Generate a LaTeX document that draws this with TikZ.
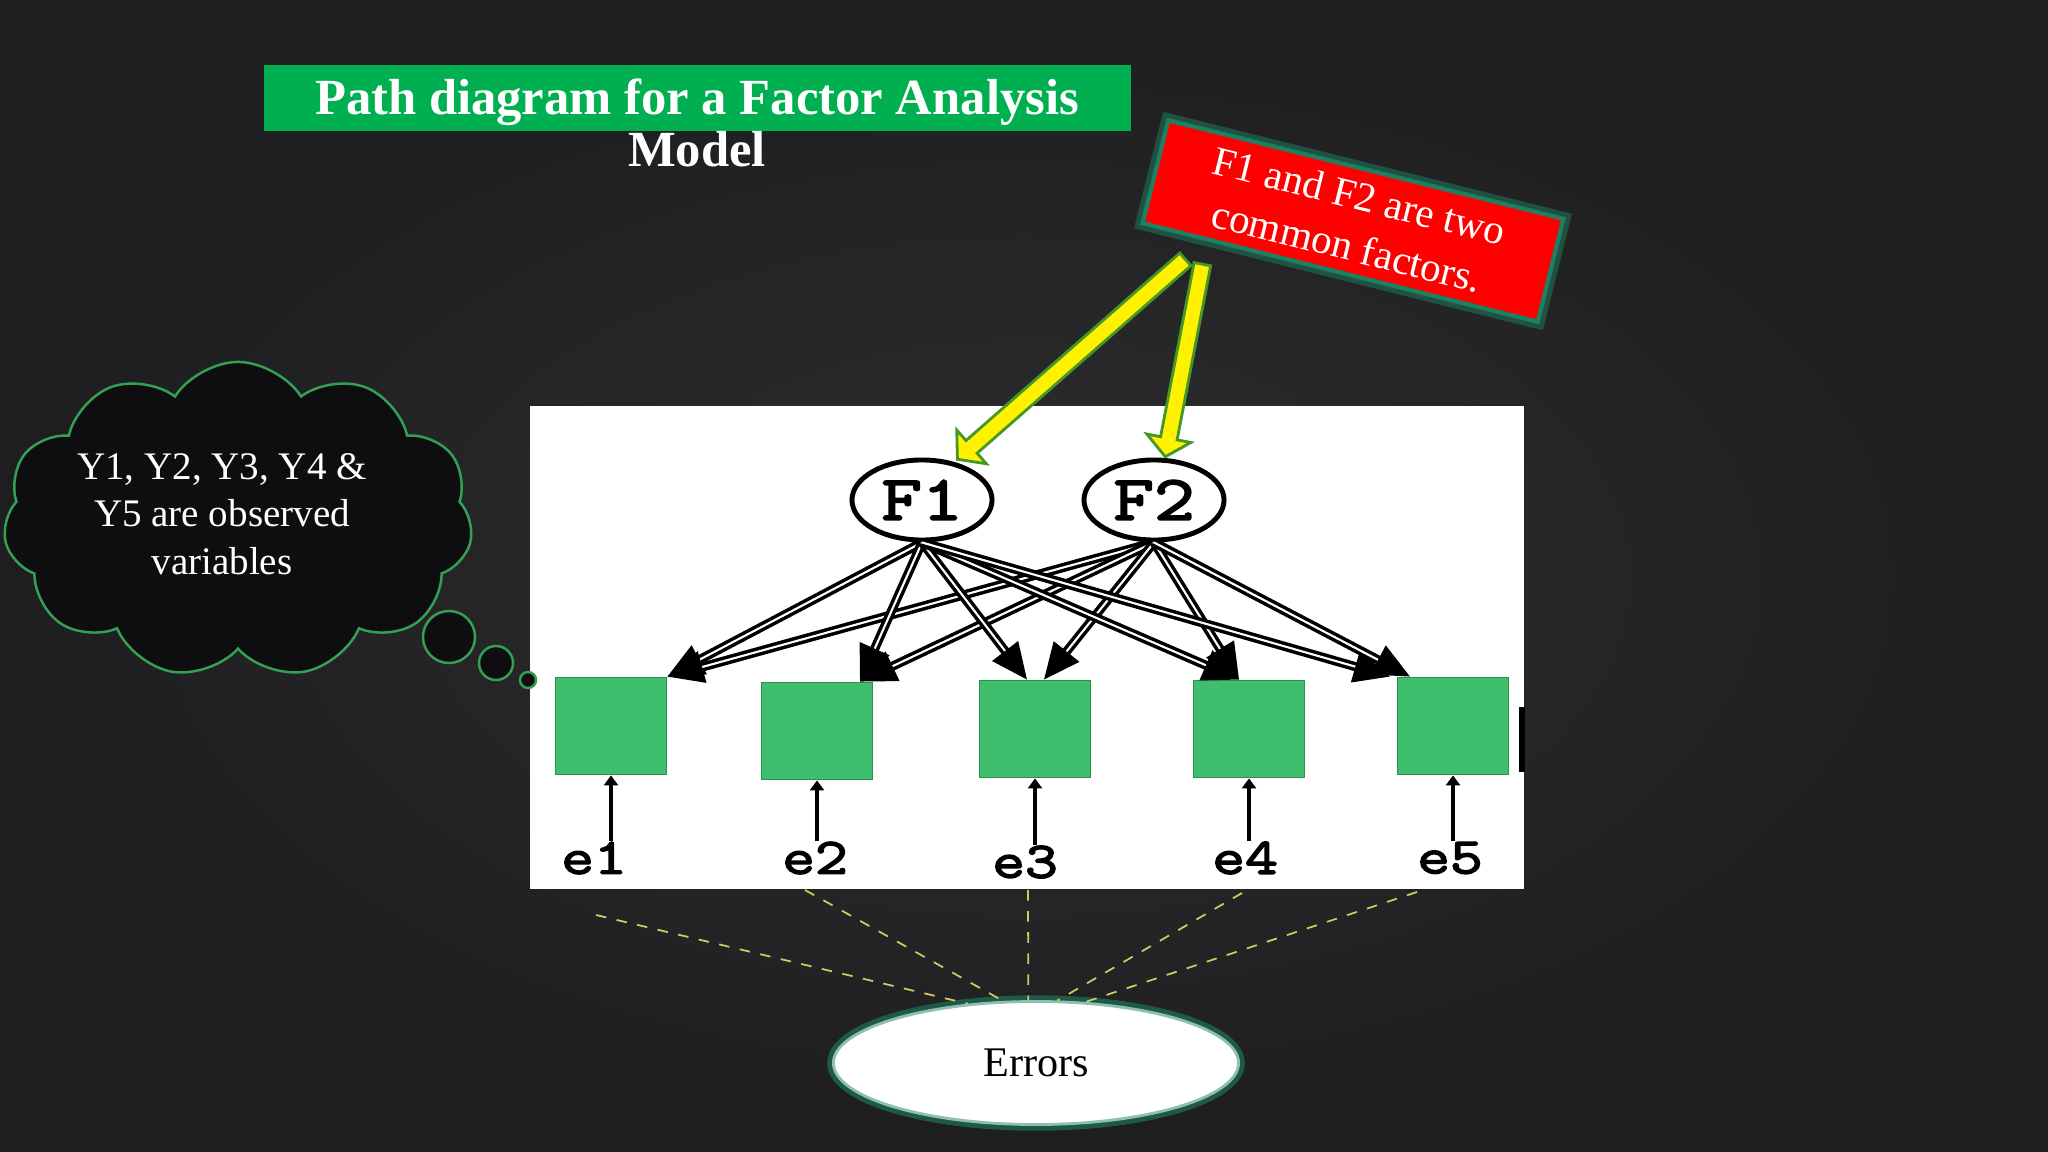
\documentclass[tikz,border=0pt]{standalone}
\usepackage{fontspec}
\setmainfont{Liberation Serif}
\newfontfamily\typefont{Latin Modern Mono}[FakeBold=3,FakeStretch=1.25]
\usetikzlibrary{shapes.geometric,shapes.symbols,shapes.arrows,arrows.meta,calc}
\definecolor{bgin}{RGB}{46,46,48}
\definecolor{bgout}{RGB}{30,30,32}
\definecolor{titlegreen}{RGB}{0,176,80}
\definecolor{boxgreen}{RGB}{63,191,109}
\definecolor{boxedge}{RGB}{40,145,75}
\definecolor{cloudfill}{RGB}{14,14,16}
\definecolor{cloudline}{RGB}{52,160,85}
\definecolor{glow}{RGB}{30,128,98}
\definecolor{arrowedge}{RGB}{70,150,40}
\definecolor{dashyellow}{RGB}{205,205,95}
\tikzset{
	obs/.style={rectangle,draw=boxedge,fill=boxgreen,line width=0.5pt,minimum width=1.11cm,minimum height=0.97cm,inner sep=0pt},
	factor/.style={ellipse,draw=black,line width=1.4pt,fill=white,minimum width=1.4cm,minimum height=0.8cm,inner sep=0pt,font=\fontsize{18}{18}\selectfont\typefont},
	elabel/.style={inner sep=0pt,font=\fontsize{14.5}{14.5}\selectfont\typefont},
	load/.style={draw=black,double=white,double distance=0.6pt,line width=1pt,-{Triangle[length=0.36cm,width=0.32cm]}},
	errpath/.style={draw=black,line width=1.1pt,-{Triangle[length=0.1cm,width=0.14cm]}},
	fatarrow/.style={single arrow,draw=arrowedge,fill=yellow,line width=0.8pt,inner sep=0.07cm,single arrow head extend=0.14cm,single arrow tip angle=100},
	tie/.style={draw=dashyellow,dashed,line width=0.5pt},
	bubble/.style={circle,draw=cloudline,fill=cloudfill,line width=0.7pt,inner sep=0pt},
	heading/.style={text=white,inner sep=0pt,font=\fontsize{14.4}{14.5}\selectfont\bfseries}
}
\begin{document}
\begin{tikzpicture}[x=0.01cm,y=-0.01cm]
	\useasboundingbox (0,0) rectangle (2048,1152);
	\shade[inner color=bgin,outer color=bgout] (0,0) rectangle (2048,1152);
	% title
	\node[fill=titlegreen,minimum width=8.67cm,minimum height=0.66cm,inner sep=0pt] (bar) at (697.5,98) {};
	\node[heading] (title) at (697,102) {Path diagram for a Factor Analysis};
	\node[heading] (model) at (697,149) {Model};
	% thought cloud
	\node[cloud,cloud puffs=11,cloud puff arc=115,cloud ignores aspect,draw=cloudline,fill=cloudfill,line width=0.7pt,minimum width=4.69cm,minimum height=3.16cm] (cloud) at (238,520) {};
	\node[text=white,align=center,font=\fontsize{11.1}{13.5}\selectfont] (cloudtext) at (222,514) {Y1, Y2, Y3, Y4 \&\\Y5 are observed\\variables};
	\node[bubble,minimum size=0.52cm] (b1) at (449,637) {};
	\node[bubble,minimum size=0.34cm] (b2) at (496,663) {};
	% path diagram panel
	\fill[white] (530,406) rectangle (1524,889);
	\node[bubble,minimum size=0.16cm] (b3) at (528,680) {};
	\node[obs] (y1) at (611,726) {};
	\node[obs] (y2) at (817,731) {};
	\node[obs] (y3) at (1035,729) {};
	\node[obs] (y4) at (1249,729) {};
	\node[obs] (y5) at (1453,726) {};
	\fill[black] (1519,707) rectangle (1525,772);
	\node[factor] (F1) at (922,500) {F1};
	\node[factor] (F2) at (1154,500) {F2};
	\draw[load] (F1.south) -- (y1.north east);
	\draw[load] (F2.south) -- (y1.north east);
	\draw[load] (F1.south) -- ($(y2.north)+(43,0)$);
	\draw[load] (F2.south) -- ($(y2.north)+(43,0)$);
	\draw[load] (F1.south) -- ($(y3.north)+(-8,0)$);
	\draw[load] (F2.south) -- ($(y3.north)+(9,0)$);
	\draw[load] (F1.south) -- ($(y4.north)+(-10,0)$);
	\draw[load] (F2.south) -- ($(y4.north)+(-10,0)$);
	\draw[load] (F1.south) -- ($(y5.north)+(-63,0)$);
	\draw[load] (F2.south) -- ($(y5.north)+(-43,0)$);
	\node[elabel] (e1) at (594,858) {e1};
	\node[elabel] (e2) at (815,858) {e2};
	\node[elabel] (e3) at (1025,862) {e3};
	\node[elabel] (e4) at (1245,858) {e4};
	\node[elabel] (e5) at (1450,858) {e5};
	\foreach \i in {1,...,5}
		\draw[errpath] (y\i.south |- e\i.north) -- (y\i.south);
	% note on the factors
	\node[rectangle,rotate=-14,fill=red,draw=glow,line width=1.2pt,preaction={draw=glow,line width=4pt,opacity=0.5},minimum width=4.07cm,minimum height=1.06cm,inner sep=0pt,text=white,align=center,font=\fontsize{11.7}{14.6}\selectfont] (note) at (1353,221) {F1 and F2 are two\\common factors.};
	\coordinate (tA) at (1188,257);
	\coordinate (hA) at (960,457);
	\coordinate (tB) at (1203,261);
	\coordinate (hB) at (1166,453);
	\path (tA) -- (hA) node[midway,sloped,allow upside down,fatarrow,minimum height=3.03cm] {};
	\path (tB) -- (hB) node[midway,sloped,allow upside down,fatarrow,minimum height=1.96cm] {};
	% errors
	\node[ellipse,fill=white,draw=glow!50!white,line width=0.8pt,preaction={draw=glow,line width=3.5pt,opacity=0.6},minimum width=4.05cm,minimum height=1.23cm,font=\fontsize{12}{12}\selectfont] (errors) at (1036,1063) {Errors};
	\coordinate (s1) at (596,915);
	\coordinate (s2) at (805,890);
	\coordinate (s3) at (1028,890);
	\coordinate (s4) at (1242,893);
	\coordinate (s5) at (1417,892);
	\draw[tie] (s1) -- (errors.139);
	\draw[tie] (s2) -- (errors.118);
	\draw[tie] (s3) -- (errors.97);
	\draw[tie] (s4) -- (errors.71);
	\draw[tie] (s5) -- (errors.51);
\end{tikzpicture}
\end{document}
